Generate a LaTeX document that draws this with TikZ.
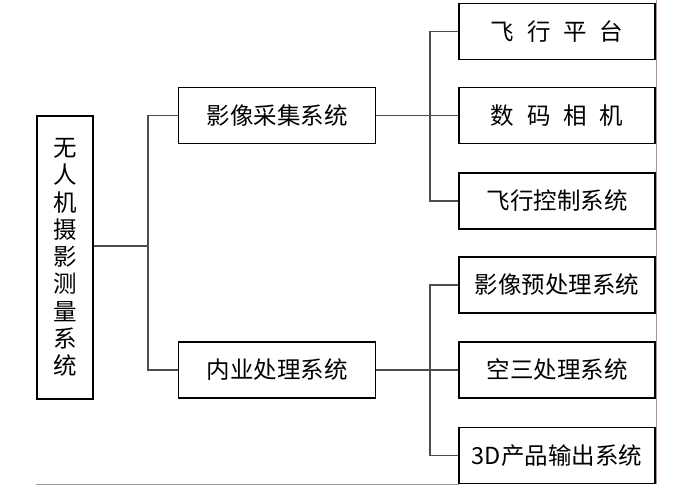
\documentclass[tikz,border=0pt]{standalone}
\usepackage{fontspec}
\newfontfamily\cjk{Noto Sans CJK SC}
\definecolor{rulegray}{RGB}{165,150,150}
\begin{document}
\begin{tikzpicture}[x=1pt,y=-1pt,
    box/.style={draw=black,line width=1.6pt,minimum height=56pt,inner sep=0pt,
      font=\cjk\fontsize{23.5}{28}\selectfont},
    leaf/.style={box,minimum width=196pt},
    mid/.style={box,minimum width=197pt},
    link/.style={draw=black!70,line width=1.1pt}]
    \useasboundingbox (0,0) rectangle (678,499);
    % page rules
    \draw[rulegray,line width=0.8pt] (656,0) -- (656,484);
    \draw[rulegray,line width=0.8pt] (36,484) -- (459,484);
    % boxes
    \node[box,minimum width=56pt,minimum height=283pt,align=center,
      font=\cjk\fontsize{23.5}{27.3}\selectfont] (root) at (65,257.5)
      {无\\人\\机\\摄\\影\\测\\量\\系\\统};
    \node[mid] (acq) at (277,115.5) {影像采集系统};
    \node[mid] (proc) at (277,370) {内业处理系统};
    \node[leaf] (plat) at (557,31.5) {飞\hspace{0.55em}行\hspace{0.55em}平\hspace{0.55em}台};
    \node[leaf] (cam) at (557,115.5) {数\hspace{0.55em}码\hspace{0.55em}相\hspace{0.55em}机};
    \node[leaf] (ctrl) at (557,201) {飞行控制系统};
    \node[leaf] (pre) at (557,285) {影像预处理系统};
    \node[leaf] (aero) at (557,370) {空三处理系统};
    \node[leaf] (prod) at (557,455.5) {3D产品输出系统};
    % connectors
    \coordinate (fork) at (148,246);
    \coordinate (forka) at (430,115.5);
    \coordinate (forkb) at (430,370);
    \draw[link] (root.east |- fork) -- (fork);
    \draw[link] (acq.west) -| (fork) |- (proc.west);
    \draw[link] (acq.east) -- (cam.west);
    \draw[link] (plat.west) -| (forka) |- (ctrl.west);
    \draw[link] (proc.east) -- (aero.west);
    \draw[link] (pre.west) -| (forkb) |- (prod.west);
\end{tikzpicture}
\end{document}
